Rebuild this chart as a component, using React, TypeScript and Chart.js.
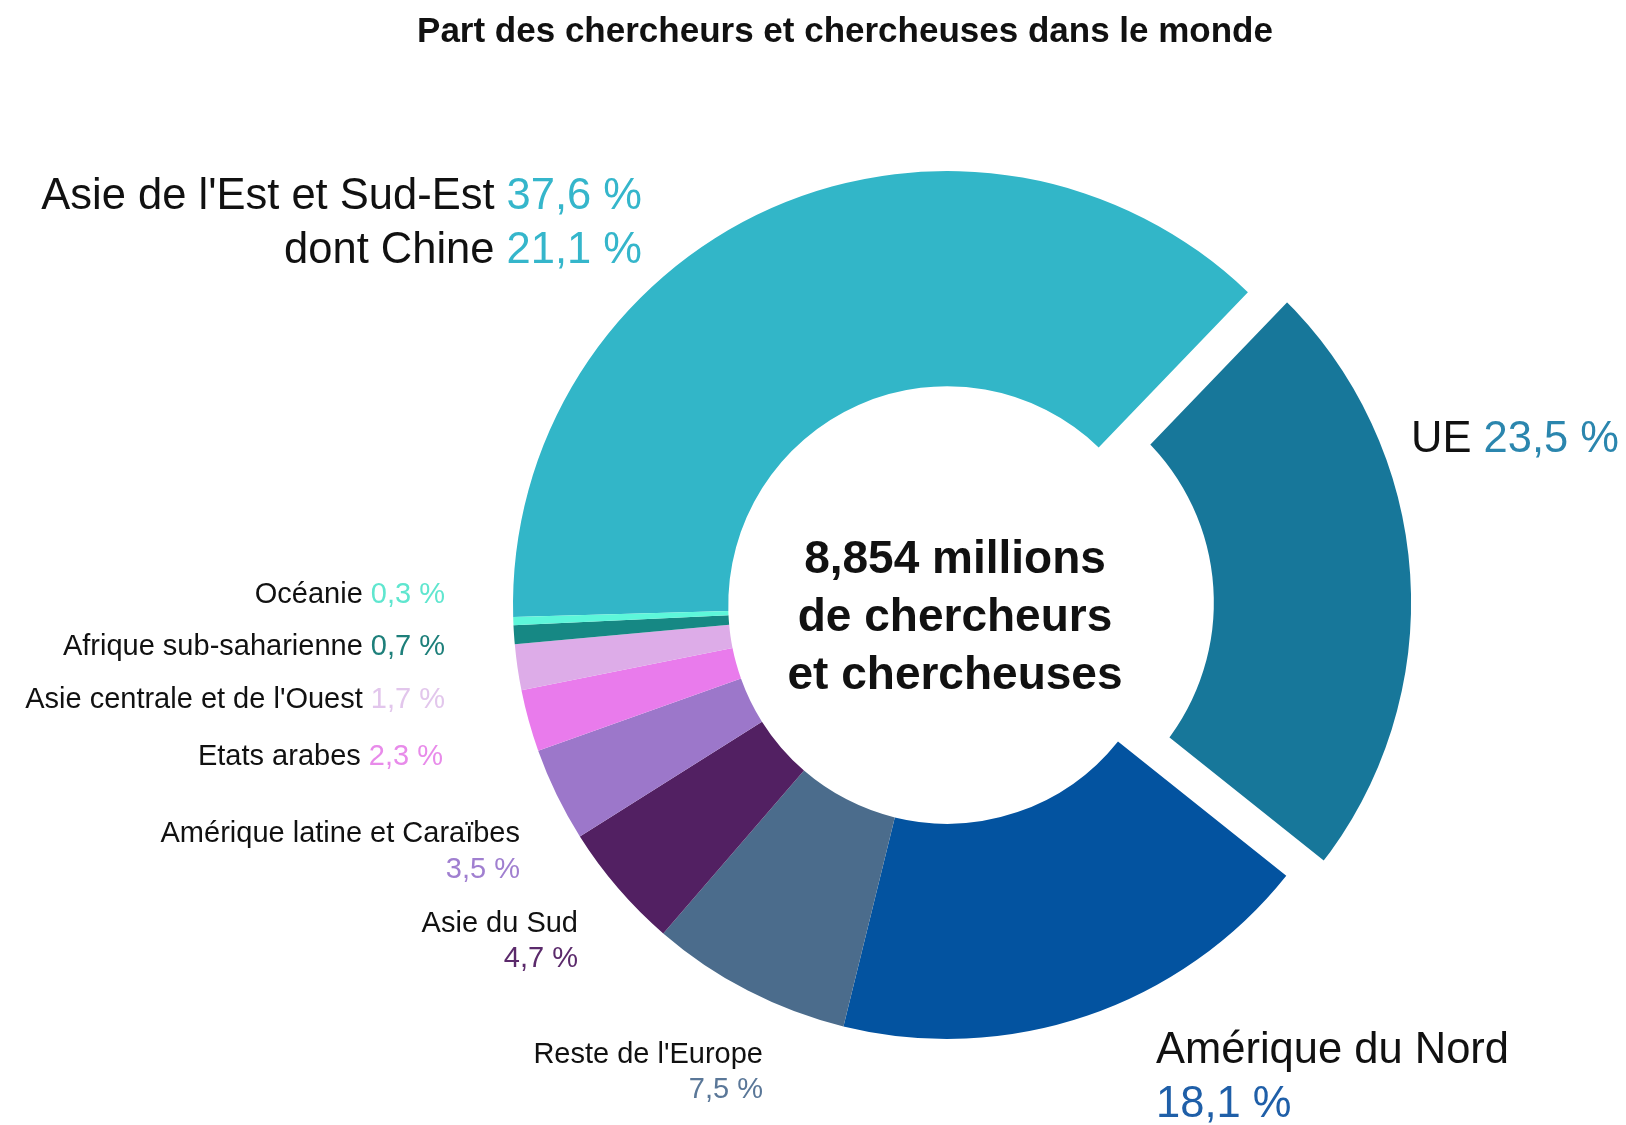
import React, { useEffect, useRef } from "react";
import { Chart, registerables } from "chart.js";

Chart.register(...registerables);

// ---------- data ----------
const chartTitle = "Part des chercheurs et chercheuses dans le monde";
const regions = [
  "Asie de l'Est et Sud-Est",
  "UE",
  "Amérique du Nord",
  "Reste de l'Europe",
  "Asie du Sud",
  "Amérique latine et Caraïbes",
  "Etats arabes",
  "Asie centrale et de l'Ouest",
  "Afrique sub-saharienne",
  "Océanie",
];
const shares = [37.6, 23.5, 18.1, 7.5, 4.7, 3.5, 2.3, 1.7, 0.7, 0.3];
const subLabel = "dont Chine";
const subShare = 21.1;
const totalMillions = 8.854;
const centerLines = ["de chercheurs", "et chercheuses"];
const explodedRegion = "UE";

// ---------- styles ----------
const sliceColors = [
  "#32B6C8",
  "#17779A",
  "#0353A0",
  "#4B6C8C",
  "#522062",
  "#9C77CA",
  "#E97BEC",
  "#DDACE8",
  "#168884",
  "#5DF7DA",
];
const pctColors = [
  "#35B6CB",
  "#2B86AE",
  "#1F5FA8",
  "#5A7798",
  "#5B2A6B",
  "#A07FD0",
  "#E88BEA",
  "#E2C6EC",
  "#1D7F7A",
  "#5FE6CF",
];
const FONT = '"Liberation Sans", Arial, Helvetica, sans-serif';
const TEXT = "#111111";

// label anchor layout (x, baselines, font size, alignment)
const labelLayout = [
  { x: 642, ys: [209], size: 43.5, align: "right" },
  { x: 1411, ys: [452], size: 43.5, align: "left" },
  { x: 1156, ys: [1063, 1117], size: 43.5, align: "left" },
  { x: 763, ys: [1063, 1098], size: 29, align: "right" },
  { x: 578, ys: [932, 967], size: 29, align: "right" },
  { x: 520, ys: [842, 878], size: 29, align: "right" },
  { x: 443, ys: [765], size: 29, align: "right" },
  { x: 445, ys: [708], size: 29, align: "right" },
  { x: 445, ys: [655], size: 29, align: "right" },
  { x: 445, ys: [603], size: 29, align: "right" },
];
const subLayout = { x: 642, y: 263, size: 43.5 };
const centerTextLayout = { dx: 8, baselines: [573, 631, 689], size: 46 };

const fmtPct = (v: number) => v.toFixed(1).replace(".", ",") + " %";
const fmtMillions = (v: number) => v.toFixed(3).replace(".", ",") + " millions";

function drawParts(
  ctx: CanvasRenderingContext2D,
  parts: [string, string][],
  x: number,
  y: number,
  align: string
) {
  const total = parts.reduce((s, p) => s + ctx.measureText(p[0]).width, 0);
  let cx = align === "right" ? x - total : x;
  ctx.textAlign = "left";
  for (const [t, c] of parts) {
    ctx.fillStyle = c;
    ctx.fillText(t, cx, y);
    cx += ctx.measureText(t).width;
  }
}

const labelsPlugin = {
  id: "customLabels",
  afterDraw(chart: any) {
    const ctx: CanvasRenderingContext2D = chart.ctx;
    ctx.save();
    ctx.textBaseline = "alphabetic";

    // title
    ctx.font = `bold 35px ${FONT}`;
    ctx.fillStyle = TEXT;
    ctx.textAlign = "center";
    ctx.fillText(chartTitle, 845, 42);

    // center text
    const meta = chart.getDatasetMeta(0);
    const arc = meta.data[0];
    const cx = arc.x + centerTextLayout.dx;
    ctx.font = `bold ${centerTextLayout.size}px ${FONT}`;
    ctx.fillStyle = TEXT;
    ctx.textAlign = "center";
    const lines = [fmtMillions(totalMillions), ...centerLines];
    lines.forEach((l, i) => ctx.fillText(l, cx, centerTextLayout.baselines[i]));

    // region labels
    regions.forEach((name, i) => {
      const L = labelLayout[i];
      ctx.font = `${L.size}px ${FONT}`;
      const pct = fmtPct(shares[i]);
      if (L.ys.length === 1) {
        drawParts(ctx, [[name + " ", TEXT], [pct, pctColors[i]]], L.x, L.ys[0], L.align);
      } else {
        drawParts(ctx, [[name, TEXT]], L.x, L.ys[0], L.align);
        drawParts(ctx, [[pct, pctColors[i]]], L.x, L.ys[1], L.align);
      }
    });

    // sub label (China)
    ctx.font = `${subLayout.size}px ${FONT}`;
    drawParts(
      ctx,
      [[subLabel + " ", TEXT], [fmtPct(subShare), pctColors[0]]],
      subLayout.x,
      subLayout.y,
      "right"
    );
    ctx.restore();
  },
};

export default function App() {
  const ref = useRef<HTMLCanvasElement | null>(null);
  useEffect(() => {
    if (!ref.current) return;
    const explodedIdx = regions.indexOf(explodedRegion);
    const chart = new Chart(ref.current, {
      type: "doughnut",
      data: {
        labels: regions,
        datasets: [
          {
            data: shares,
            backgroundColor: sliceColors,
            borderColor: "#ffffff",
            borderWidth: regions.map((_, i) => (i === explodedIdx ? 18 : 0)),
            borderAlign: "center",
            borderJoinStyle: "miter",
            offset: regions.map((_, i) => (i === explodedIdx ? 156 : 0)),
            hoverOffset: 0,
          } as any,
        ],
      },
      options: {
        responsive: false,
        animation: false,
        events: [],
        rotation: 268.4,
        cutout: "50.4%",
        radius: 434,
        layout: { padding: { left: 268, top: 85, right: 0, bottom: 0 } },
        plugins: {
          legend: { display: false },
          tooltip: { enabled: false },
          title: { display: false },
        },
      } as any,
      plugins: [labelsPlugin],
    });
    return () => chart.destroy();
  }, []);
  return (
    <div style={{ position: "absolute", left: 0, top: 0, width: 1626, height: 1125, background: "#fff" }}>
      <canvas ref={ref} width={1626} height={1125} style={{ display: "block" }} />
    </div>
  );
}
